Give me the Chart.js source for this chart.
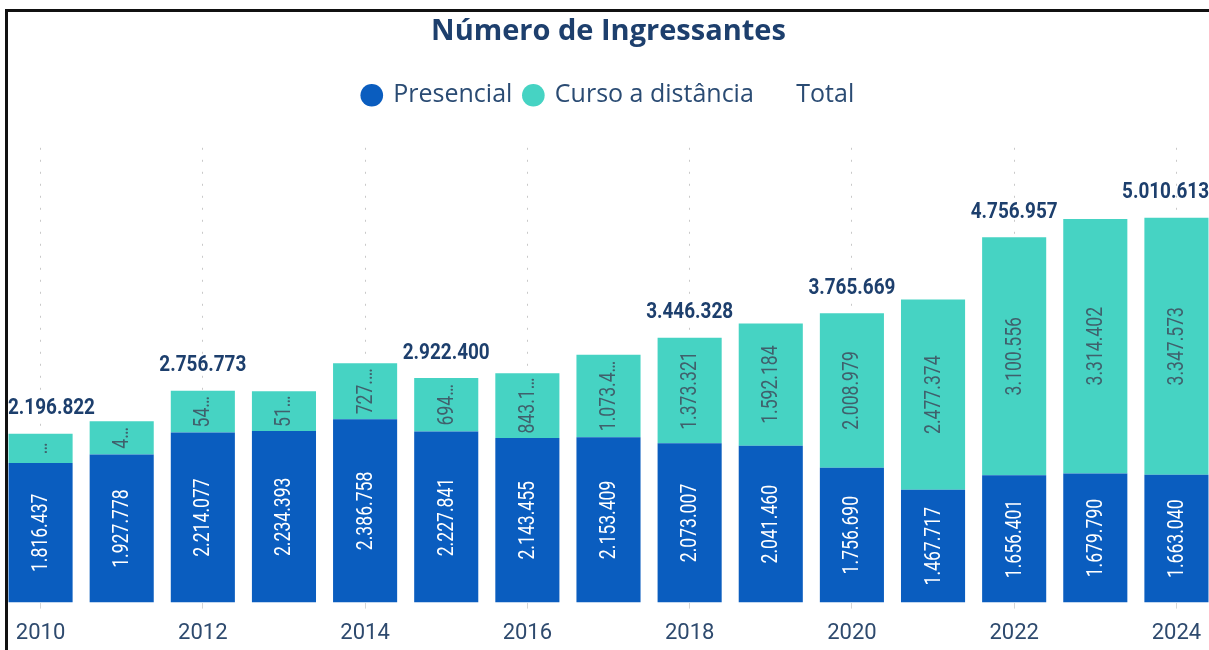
<!DOCTYPE html>
<html lang="pt-BR">
<head>
<meta charset="utf-8">
<title>Número de Ingressantes</title>
<script src="https://cdn.jsdelivr.net/npm/chart.js@4.4.1/dist/chart.umd.min.js"></script>
<style>
  html, body { margin: 0; padding: 0; background: #fff; overflow: hidden; }
  #wrap { position: absolute; left: 0; top: 0; width: 1217px; height: 666px; }
  #frame {
    position: absolute; left: 5px; top: 9px; width: 1220px; height: 660px;
    border-top: 3px solid #111; border-left: 3px solid #111;
    pointer-events: none; z-index: 2;
  }
</style>
</head>
<body>
<div id="wrap"><canvas id="ingressantes-chart"></canvas></div>
<div id="frame"></div>
<script>
/* Número de Ingressantes - stacked bars (presencial + EaD) */

const years = ['2010', '2011', '2012', '2013', '2014', '2015', '2016', '2017',
  '2018', '2019', '2020', '2021', '2022', '2023', '2024'];

const presencial = [1816437, 1927778, 2214077, 2234393, 2386758, 2227841, 2143455,
  2153409, 2073007, 2041460, 1756690, 1467717, 1656401, 1679790, 1663040];

const distancia = [380385, 431597, 542696, 515405, 727738, 694559, 843181,
  1073497, 1373321, 1592184, 2008979, 2477374, 3100556, 3314402, 3347573];

// totals shown above the bars only for these years (the others are hidden in the original)
const totalLabelYears = ['2010', '2012', '2015', '2018', '2020', '2022', '2024'];

const totals = presencial.map((v, i) => v + distancia[i]);

const COLOR_PRES = '#0a5dbf';
const COLOR_EAD = '#46d3c3';
const NAVY = '#1d3f6d';
const LABEL_FONT = "'Roboto', sans-serif";
const SQUEEZE = 0.8; // fake a condensed face, none is installed

function fmt(n) {
  return String(n).replace(/\B(?=(\d{3})+(?!\d))/g, '.');
}

// cut a label down with an ellipsis when the segment is too short
function fitText(ctx, text, room) {
  const w = (t) => ctx.measureText(t).width * SQUEEZE;
  if (w(text) <= room) return text;
  let t = text;
  while (t.length > 0 && w(t + '…') > room) {
    t = t.slice(0, -1);
  }
  return t + '…';
}

const barLabels = {
  id: 'barLabels',
  afterDatasetsDraw(chart) {
    const ctx = chart.ctx;

    // values inside the segments, rotated
    [0, 1].forEach(di => {
      const meta = chart.getDatasetMeta(di);
      const values = chart.data.datasets[di].data;
      meta.data.forEach((bar, i) => {
        const h = bar.base - bar.y;
        ctx.save();
        ctx.font = '22px ' + LABEL_FONT;
        const text = fitText(ctx, fmt(values[i]), h - 8);
        ctx.translate(bar.x, (bar.y + bar.base) / 2);
        ctx.rotate(-Math.PI / 2);
        ctx.scale(SQUEEZE, 1);
        ctx.textAlign = 'center';
        ctx.textBaseline = 'middle';
        ctx.fillStyle = di === 0 ? '#ffffff' : '#40606c';
        ctx.fillText(text, 0, 1);
        ctx.restore();
      });
    });

    // totals above the bars
    const meta = chart.getDatasetMeta(1);
    ctx.save();
    ctx.font = 'bold 22px ' + LABEL_FONT;
    ctx.fillStyle = NAVY;
    ctx.textBaseline = 'middle';
    ctx.textAlign = 'center';
    meta.data.forEach((bar, i) => {
      if (!totalLabelYears.includes(years[i])) return;
      const text = fmt(totals[i]);
      const w = ctx.measureText(text).width * 0.86;
      let x = bar.x;
      x = Math.max(x, 8 + w / 2);
      x = Math.min(x, 1209 - w / 2);
      ctx.save();
      ctx.translate(x, bar.y - 25);
      ctx.scale(0.86, 1);
      ctx.fillText(text, 0, 0);
      ctx.restore();
    });
    ctx.restore();
  }
};

// leave room between the legend and the plot
const legendSpace = {
  id: 'legendSpace',
  afterInit(chart) {
    const fit = chart.legend.fit;
    chart.legend.fit = function () {
      fit.call(this);
      this.height += 30;
    };
  }
};

const canvas = document.getElementById('ingressantes-chart');
new Chart(canvas, {
  type: 'bar',
  data: {
    labels: years,
    datasets: [
      {
        label: 'Presencial',
        data: presencial,
        backgroundColor: COLOR_PRES,
        barPercentage: 0.79,
        categoryPercentage: 1
      },
      {
        label: 'Curso a distância',
        data: distancia,
        backgroundColor: COLOR_EAD,
        barPercentage: 0.79,
        categoryPercentage: 1
      },
      {
        type: 'line',
        label: 'Total',
        data: totals,
        stack: 'total',
        showLine: false,
        pointRadius: 0,
        borderWidth: 0,
        borderColor: 'rgba(0,0,0,0)',
        backgroundColor: 'rgba(0,0,0,0)'
      }
    ]
  },
  options: {
    responsive: true,
    maintainAspectRatio: false,
    animation: false,
    layout: {
      padding: { top: 0, bottom: 7, left: 0, right: 0 }
    },
    plugins: {
      title: {
        display: true,
        text: 'Número de Ingressantes',
        color: NAVY,
        font: { family: "'Open Sans', 'Noto Sans', sans-serif", size: 29, weight: 'bold' },
        padding: { top: 14, bottom: 22 }
      },
      legend: {
        position: 'top',
        labels: {
          usePointStyle: true,
          pointStyle: 'circle',
          boxWidth: 18,
          boxHeight: 16,
          padding: 12,
          color: '#2a4b73',
          font: { family: "'Open Sans', 'Noto Sans', sans-serif", size: 25 }
        }
      },
      tooltip: { enabled: false }
    },
    scales: {
      x: {
        stacked: true,
        grid: {
          offset: false,
          drawTicks: true,
          tickLength: 6,
          color: (c) => (c.index % 2 === 0 ? '#c9c9c9' : 'rgba(0,0,0,0)'),
          tickColor: (c) => (c.index % 2 === 0 ? '#d6d6d6' : 'rgba(0,0,0,0)')
        },
        border: { display: false, dash: [2, 10] },
        ticks: {
          autoSkip: false,
          maxRotation: 0,
          padding: 12,
          color: '#2e4a6e',
          font: { family: "'Roboto', sans-serif", size: 22 },
          callback: function (value, index) {
            return index % 2 === 0 ? this.getLabelForValue(value) : '';
          }
        }
      },
      y: {
        stacked: true,
        display: false,
        min: 0,
        max: 5920000
      }
    }
  },
  plugins: [barLabels, legendSpace]
});
</script>
</body>
</html>
